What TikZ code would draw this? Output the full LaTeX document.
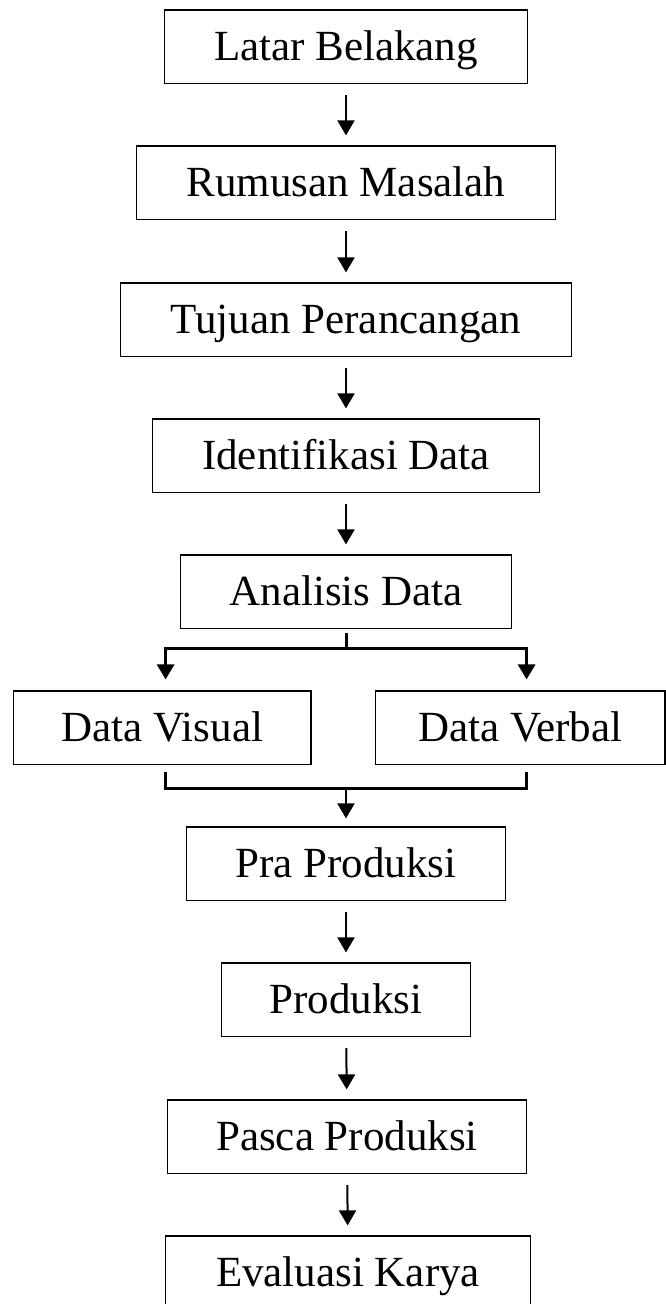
\documentclass[tikz,border=0pt]{standalone}
\usepackage{fontspec}
\setmainfont{Liberation Serif}
\usetikzlibrary{arrows.meta}

\tikzset{
  box/.style={draw, line width=1.2pt, minimum height=73.5pt, text height=28pt,
    text depth=0pt, inner sep=0pt, font=\fontsize{43}{50}\selectfont},
  arr/.style={line width=2pt, -{Triangle[width=17pt,length=15pt]},
    shorten <=11pt, shorten >=10pt},
  thickline/.style={line width=3pt}
}

\begin{document}
\begin{tikzpicture}[x=1pt,y=-1pt]
    \useasboundingbox (0,0) rectangle (666,1304);

    \node[box, minimum width=362.5pt] (latar) at (346,46.75) {Latar Belakang};
    \node[box, minimum width=418.5pt] (rumusan) at (346,182.75) {Rumusan Masalah};
    \node[box, minimum width=450.5pt] (tujuan) at (346,319.75) {Tujuan Perancangan};
    \node[box, minimum width=387pt] (identifikasi) at (346,455.75) {Identifikasi Data};
    \node[box, minimum width=331pt] (analisis) at (346,591.75) {Analisis Data};

    \node[box, minimum width=297.5pt] (visual) at (162.3,727.75) {Data Visual};
    \node[box, minimum width=289.6pt] (verbal) at (520.2,727.75) {Data Verbal};

    \node[box, minimum width=318.5pt] (pra) at (346,863.75) {Pra Produksi};
    \node[box, minimum width=249.7pt] (produksi) at (346,999.75) {Produksi};
    \node[box, minimum width=359.7pt] (pasca) at (347,1136.75) {Pasca Produksi};
    \node[box, minimum width=364.7pt] (evaluasi) at (348,1272.75) {Evaluasi Karya};

    \draw[arr] (latar) -- (rumusan);
    \draw[arr] (rumusan) -- (tujuan);
    \draw[arr] (tujuan) -- (identifikasi);
    \draw[arr] (identifikasi) -- (analisis);

    % split into the two data boxes
    \coordinate (splitL) at (165.6,648);
    \coordinate (splitR) at (526.6,648);
    \draw[arr, thickline, shorten <=0pt, shorten >=11pt]
        ([yshift=-4pt]analisis.south) |- (splitL) -- (splitL |- visual.north);
    \draw[arr, thickline, shorten <=0pt, shorten >=11pt]
        ([yshift=-4pt]analisis.south) |- (splitR) -- (splitR |- verbal.north);

    % join again
    \coordinate (joinL) at (165.6,788);
    \coordinate (joinR) at (526.6,788);
    \draw[thickline] ([yshift=-7pt]visual.south -| joinL) -- (joinL) -- (joinR)
        -- ([yshift=-7pt]verbal.south -| joinR);
    \draw[arr, shorten <=0pt, shorten >=8pt] (pra.north |- joinL) -- (pra.north);

    \draw[arr] (pra) -- (produksi);
    \draw[arr] (produksi) -- (pasca);
    \draw[arr] (pasca) -- (evaluasi);
\end{tikzpicture}
\end{document}
